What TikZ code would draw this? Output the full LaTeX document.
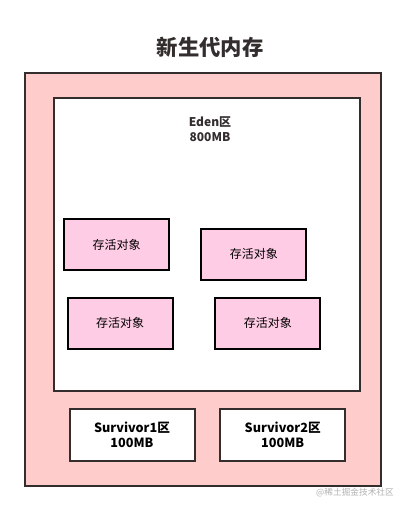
\documentclass[tikz,border=0pt]{standalone}
\usepackage{fontspec}
\setmainfont{Noto Sans CJK SC}
\usetikzlibrary{positioning}
\definecolor{youngcolor}{RGB}{255,204,204}
\definecolor{objcolor}{RGB}{255,204,230}
\definecolor{linecolor}{RGB}{51,45,45}

\begin{document}
\begin{tikzpicture}[
    x=0.75pt, y=-0.75pt,
    area/.style={rectangle, draw=linecolor, line width=1.5pt, align=center, inner sep=0pt},
    obj/.style={rectangle, draw=black, line width=1.5pt, fill=objcolor, minimum width=78.75pt, minimum height=38.25pt, align=center, font=\fontsize{9}{11}\selectfont},
    survivor/.style={area, fill=white, minimum width=93.75pt, minimum height=39pt, font=\fontsize{9.5}{11.5}\selectfont\bfseries}
]
\useasboundingbox (0,0) rectangle (406,511);

% title
\node[font=\fontsize{16}{18}\selectfont\bfseries, text=linecolor] (title) at (210,47) {新生代内存};

% young generation
\node[area, fill=youngcolor, minimum width=267pt, minimum height=309.75pt] (young) at (203,279.5) {};

% Eden
\node[area, fill=white, minimum width=229.5pt, minimum height=219.75pt] (eden) at (207,244.5) {};
\node[font=\fontsize{9}{11.5}\selectfont\bfseries, text=linecolor, align=center] (edenlabel) at (210,129.5) {Eden区\\800MB};

% surviving objects
\node[obj] (obj1) at (116.7,244.8) {存活对象};
\node[obj] (obj2) at (253.8,254.3) {存活对象};
\node[obj] (obj3) at (120,323.3) {存活对象};
\node[obj] (obj4) at (267.8,323.3) {存活对象};

% Survivor
\node[survivor] (s1) at (132,434.5) {Survivor1区\\100MB};
\node[survivor] (s2) at (282.7,434.5) {Survivor2区\\100MB};

% watermark
\node[font=\fontsize{6.5}{8}\selectfont, text=black!30] (mark) at (355,493) {@稀土掘金技术社区};

\end{tikzpicture}
\end{document}
